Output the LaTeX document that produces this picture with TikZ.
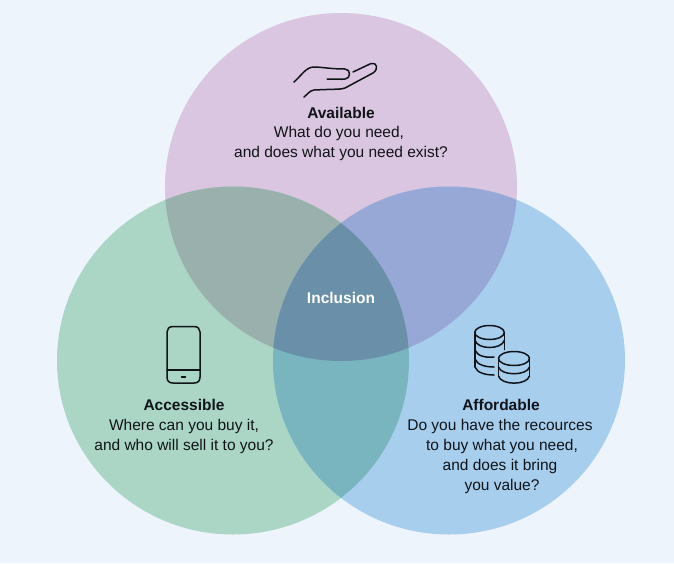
\documentclass[tikz,border=0pt]{standalone}
\usepackage{fontspec}
\setmainfont{Liberation Sans}
\definecolor{bgc}{HTML}{EDF4FC}
\definecolor{ctop}{HTML}{DAC6E0}
\definecolor{cleft}{HTML}{ABD6C6}
\definecolor{cright}{HTML}{A8CEEE}
\definecolor{otl}{HTML}{9AB0AD}
\definecolor{otr}{HTML}{98A8D6}
\definecolor{olr}{HTML}{78B5BE}
\definecolor{omid}{HTML}{6A8FA8}
\definecolor{ink}{HTML}{101418}
\tikzset{
  x=1pt,y=-1pt,
  lab/.style={align=center,font=\fontsize{15.5}{20}\selectfont,text=ink,inner sep=0pt},
  icon/.style={draw=ink,line width=1.5pt,line cap=round,line join=round},
  venn/.style={x radius=176pt,y radius=174pt}
}
\begin{document}
\begin{tikzpicture}
\useasboundingbox (0,0) rectangle (674,563);
\fill[bgc] (0,0) rectangle (674,563);
\coordinate (T) at (341,187);
\coordinate (L) at (233,360.5);
\coordinate (Rr) at (449,360.5);
\fill[ctop] (T) ellipse[venn];
\fill[cleft] (L) ellipse[venn];
\fill[cright] (Rr) ellipse[venn];
\begin{scope}\clip (T) ellipse[venn];\fill[otl] (L) ellipse[venn];\fill[otr] (Rr) ellipse[venn];\end{scope}
\begin{scope}\clip (L) ellipse[venn];\fill[olr] (Rr) ellipse[venn];\end{scope}
\begin{scope}\clip (T) ellipse[venn];\clip (L) ellipse[venn];\fill[omid] (Rr) ellipse[venn];\end{scope}
% hand
\draw[icon] (294,82) .. controls (302,75) and (306,67) .. (314,67) .. controls (322,67) and (330,69) .. (345,69) .. controls (351,69) and (351,79) .. (345,79) -- (327,79);
\draw[icon] (353,72) -- (371,63.5) .. controls (377,62) and (379,69) .. (373,73) -- (345,88) .. controls (342,89.5) and (335,89) .. (314,90) .. controls (309,91) and (308,94) .. (304,97);
% phone
\draw[icon] (173,326.5) -- (194,326.5) .. controls (198,326.5) and (200,329) .. (200,332) -- (200,377) .. controls (200,381) and (198,383) .. (194,383) -- (173,383) .. controls (169,383) and (167,381) .. (167,377) -- (167,332) .. controls (167,329) and (169,326.5) .. (173,326.5) -- cycle;
\draw[icon] (167,370) -- (200,370);
\draw[icon] (181.5,377) -- (185.5,377);
% coins
\draw[icon] (489.5,332.5) ellipse[x radius=14.8pt,y radius=7pt];
\draw[icon] (475,332.5) -- (475,340) (504.5,332.5) -- (504.5,349.5);
\draw[icon] (475,340) .. controls (477,350) and (502,350) .. (504.5,340);
\draw[icon] (475,340) -- (475,367);
\draw[icon] (475,350) .. controls (477,356) and (486,358) .. (494,357);
\draw[icon] (475,359) .. controls (477,365) and (486,367) .. (494,367);
\draw[icon] (475,367) .. controls (477,373) and (486,375) .. (494,375);
\draw[icon] (514,358.5) ellipse[x radius=15.5pt,y radius=7pt];
\draw[icon] (498.5,358.5) -- (498.5,376) (529.5,358.5) -- (529.5,376);
\draw[icon] (498.5,367) .. controls (501,376) and (527,376) .. (529.5,367);
\draw[icon] (498.5,376) .. controls (501,385.5) and (527,385.5) .. (529.5,376);
% labels
\node[lab] (avail) at (341,113) {\textbf{Available}};
\node[lab] (availq) at (341,143.5) {What do you need,\hspace*{4pt}\\and does what you need exist?};
\node[lab,text=white] (incl) at (341,298) {\textbf{Inclusion}};
\node[lab] (acc) at (184,405) {\textbf{Accessible}};
\node[lab] (accq) at (184,436.5) {Where can you buy it,\\and who will sell it to you?};
\node[lab] (aff) at (501,405) {\textbf{Affordable}};
\node[lab,anchor=north] (affq) at (500,419) {Do you have the recources\\\hspace*{4pt}to buy what you need,\\and does it bring\\\hspace*{4pt}you value?};
\end{tikzpicture}
\end{document}
